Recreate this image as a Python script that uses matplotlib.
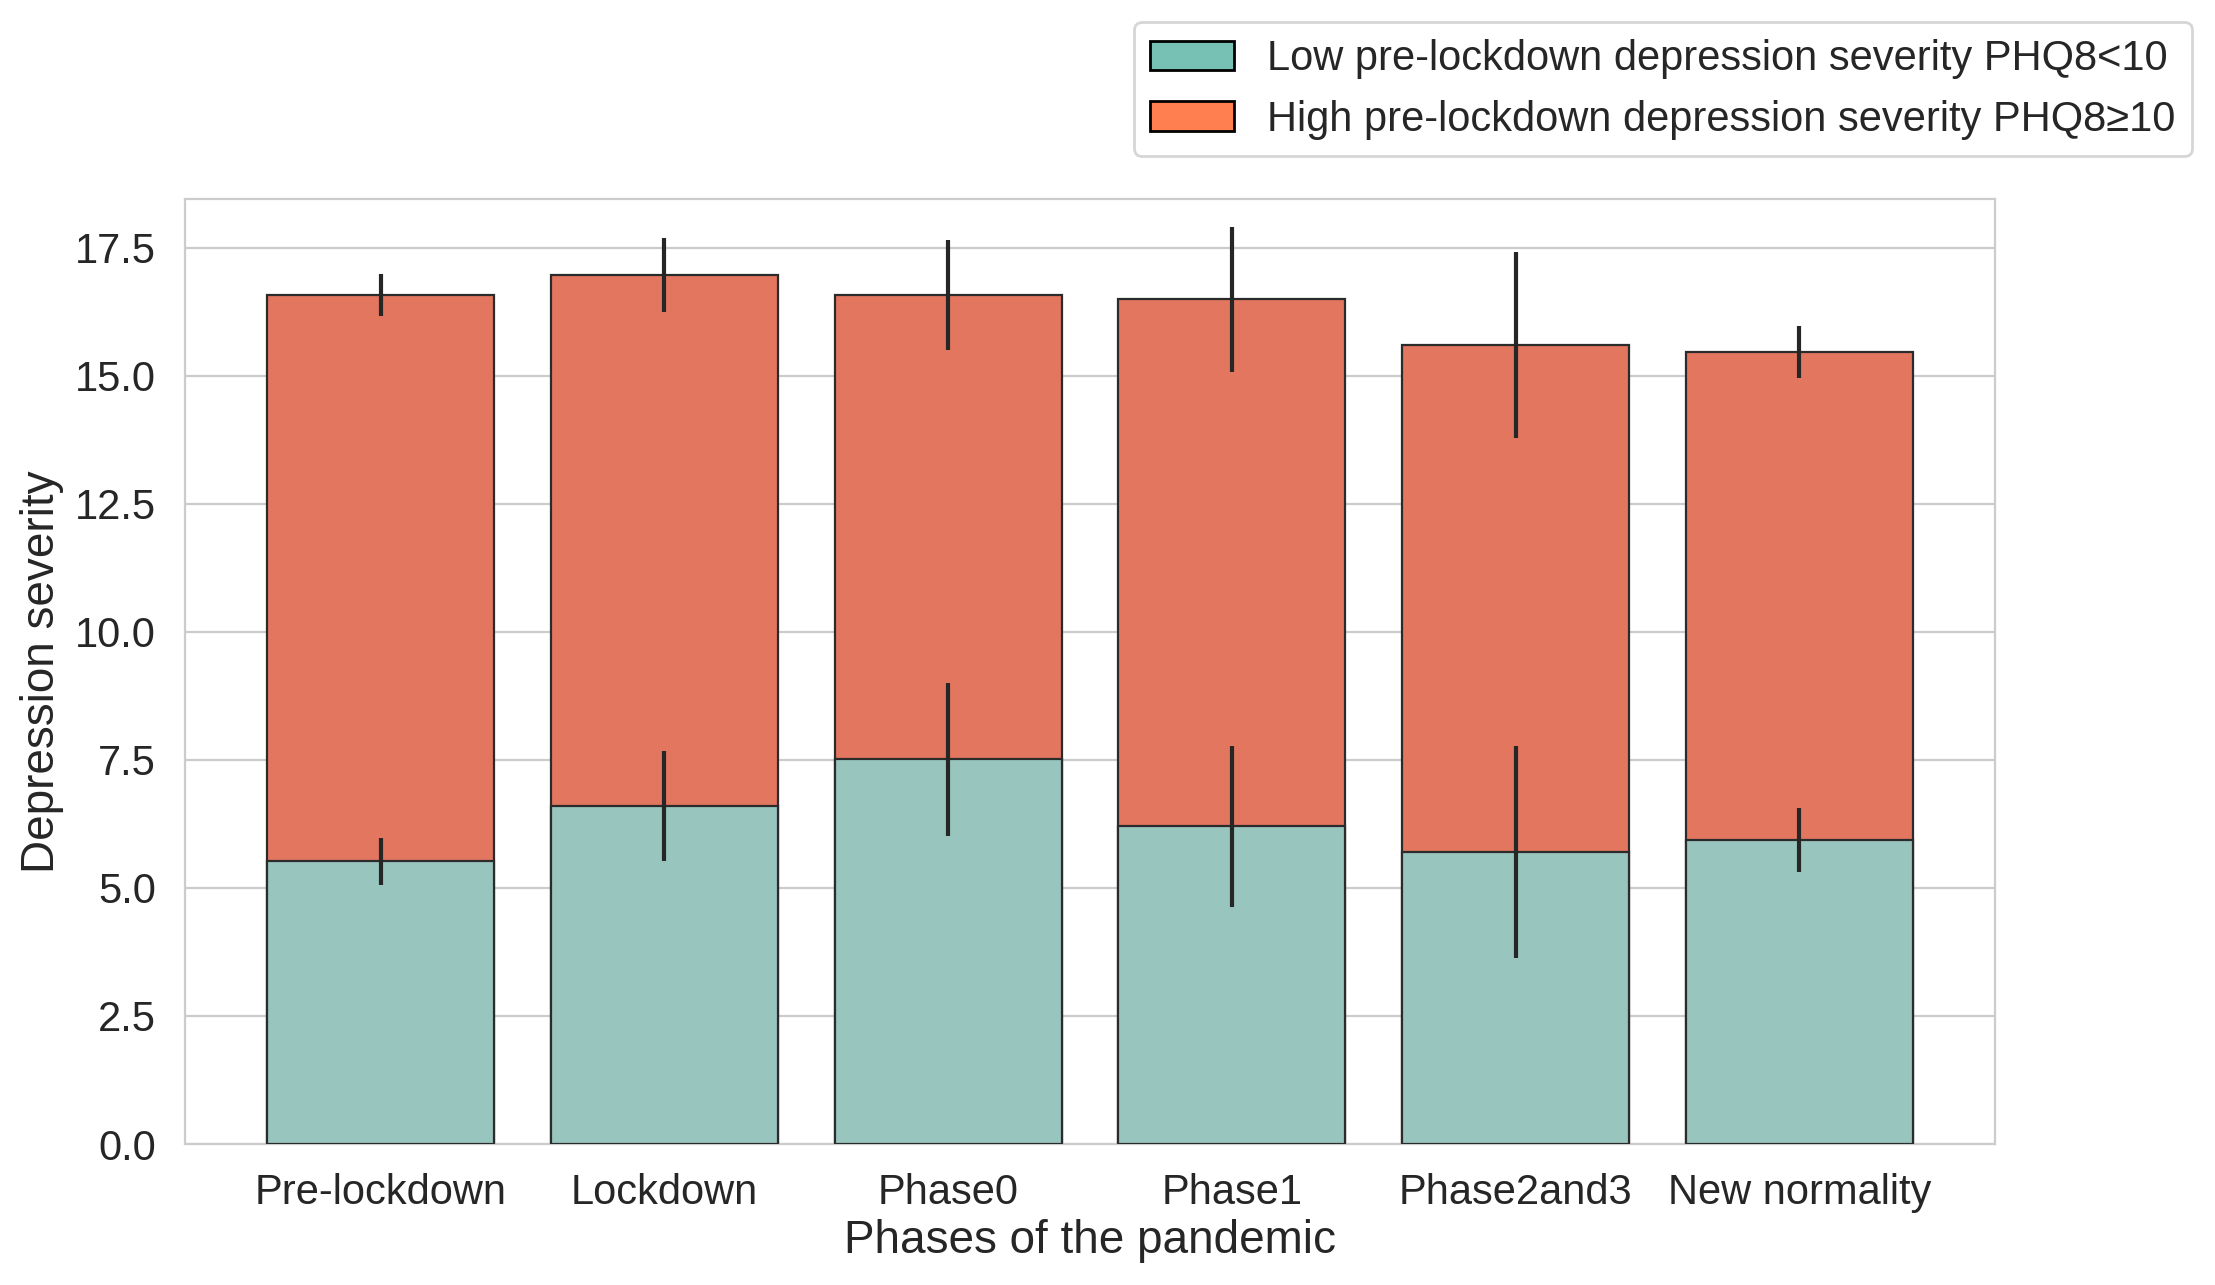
import matplotlib.pyplot as plt
import matplotlib.patches as mpatches
import seaborn as sns

sns.set_style("whitegrid")
plt.rcParams['font.family'] = ['Liberation Sans', 'DejaVu Sans']

phases = ["Pre-lockdown", "Lockdown", "Phase0", "Phase1", "Phase2and3", "New normality"]

# mean PHQ8 per phase for each pre-lockdown group, with error (half-length)
low_mean = [5.52, 6.60, 7.51, 6.20, 5.70, 5.94]
low_err = [0.46, 1.07, 1.50, 1.58, 2.07, 0.63]
high_mean = [16.57, 16.97, 16.58, 16.49, 15.60, 15.47]
high_err = [0.41, 0.72, 1.07, 1.41, 1.82, 0.51]

low_label = "Low pre-lockdown depression severity PHQ8<10"
high_label = "High pre-lockdown depression severity PHQ8≥10"

fig = plt.figure(figsize=(11.075, 6.425), dpi=200)
ax = fig.add_axes([0.0835, 0.1097, 0.8172, 0.7354])

x = range(len(phases))
err_kw = dict(ecolor="#262626", elinewidth=1.5, capsize=0)
ax.bar(x, high_mean, width=0.8, yerr=high_err, color="#e3765f",
       edgecolor="#2b2b2b", linewidth=0.8, error_kw=err_kw, zorder=2)
ax.bar(x, low_mean, width=0.8, yerr=low_err, color="#98c6bf",
       edgecolor="#2b2b2b", linewidth=0.8, error_kw=err_kw, zorder=3)

ax.set_ylim(0, 18.45)
ax.set_xticks(list(x))
ax.set_xticklabels(phases)
ax.tick_params(axis="x", labelsize=15, colors="#262626", pad=7)
ax.tick_params(axis="y", labelsize=15, colors="#262626", pad=7)
ax.set_xlabel("Phases of the pandemic", fontsize=16.5, color="#262626", labelpad=2)
ax.set_ylabel("Depression severity", fontsize=16.5, color="#262626", labelpad=4)
ax.xaxis.grid(False)
ax.set_axisbelow(True)

handles = [
    mpatches.Patch(facecolor="#77c0b4", edgecolor="black", label=low_label),
    mpatches.Patch(facecolor="#ff7f50", edgecolor="black", label=high_label),
]
fig.legend(handles=handles, loc="upper right", bbox_to_anchor=(0.999, 0.999),
           fontsize=15, frameon=True)

fig.savefig("out.png", dpi=200)
